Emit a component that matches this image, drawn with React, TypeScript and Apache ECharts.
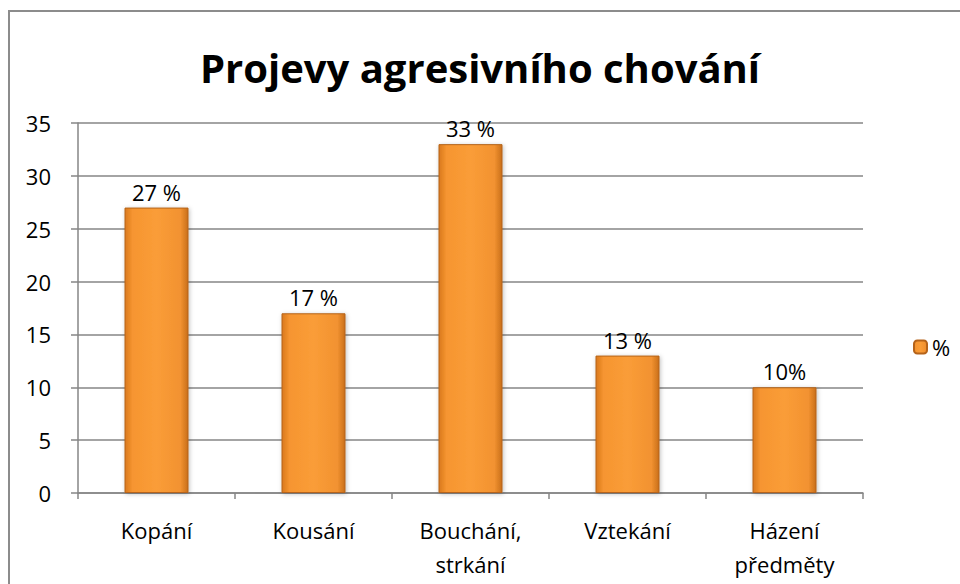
import React, { useEffect, useRef } from "react";
import * as echarts from "echarts";

const categories = ["Kopání", "Kousání", "Bouchání,\nstrkání", "Vztekání", "Házení\npředměty"];
const values = [27, 17, 33, 13, 10];
const valueLabels = ["27 %", "17 %", "33 %", "13 %", "10%"];
const seriesName = "%";
const titleText = "Projevy agresivního chování";

export default function App() {
  const ref = useRef<HTMLDivElement>(null);
  useEffect(() => {
    if (!ref.current) return;
    const chart = echarts.init(ref.current, null, { renderer: "svg" });
    const barColor = new echarts.graphic.LinearGradient(0, 0, 1, 0, [
      { offset: 0, color: "#D9791C" },
      { offset: 0.12, color: "#F69530" },
      { offset: 0.5, color: "#FA9D38" },
      { offset: 0.88, color: "#F29230" },
      { offset: 1, color: "#C96F1A" },
    ]);
    chart.setOption({
      animation: false,
      backgroundColor: "#ffffff",
      textStyle: { fontFamily: "Open Sans" },
      graphic: [
        {
          type: "rect",
          shape: { x: 9, y: 11, width: 1000, height: 1000 },
          style: { fill: "none", stroke: "#8C8C8C", lineWidth: 2 },
          silent: true,
        },
      ],
      title: {
        text: titleText,
        left: "center",
        top: 42,
        textStyle: { fontFamily: "Open Sans", fontWeight: "bold", fontSize: 40, color: "#000" },
      },
      legend: {
        data: [seriesName],
        orient: "vertical",
        left: 908,
        top: 331,
        itemWidth: 13,
        itemHeight: 13,
        itemGap: 6,
        textStyle: { fontSize: 22, color: "#000", fontFamily: "Open Sans" },
      },
      grid: { left: 78, right: 97, top: 123, bottom: 91, containLabel: false },
      xAxis: {
        type: "category",
        data: categories,
        axisLine: { lineStyle: { color: "#868686", width: 1.5 } },
        axisTick: { show: true, length: 6, lineStyle: { color: "#868686", width: 1.5 } },
        axisLabel: { fontSize: 22, color: "#000", margin: 20, lineHeight: 34, fontFamily: "Open Sans" },
      },
      yAxis: {
        type: "value",
        min: 0,
        max: 35,
        interval: 5,
        axisLine: { show: true, lineStyle: { color: "#868686", width: 1.5 } },
        axisTick: { show: true, length: 7, lineStyle: { color: "#868686", width: 1.5 } },
        splitLine: { lineStyle: { color: "#868686", width: 1.5 } },
        axisLabel: { fontSize: 22, color: "#000", margin: 27, fontFamily: "Open Sans" },
      },
      series: [
        {
          name: seriesName,
          type: "bar",
          data: values,
          barWidth: 64,
          itemStyle: {
            color: barColor,
            borderColor: "#B5631A",
            borderWidth: 1,
            shadowColor: "rgba(0,0,0,0.25)",
            shadowBlur: 4,
            shadowOffsetX: 1,
            shadowOffsetY: 1,
          },
          label: {
            show: true,
            position: "top",
            distance: 5,
            fontSize: 22,
            color: "#000",
            fontFamily: "Open Sans",
            formatter: (p: any) => valueLabels[p.dataIndex],
          },
        },
      ],
    });
    return () => chart.dispose();
  }, []);
  return <div ref={ref} style={{ width: 960, height: 584, position: "absolute", left: 0, top: 0 }} />;
}
